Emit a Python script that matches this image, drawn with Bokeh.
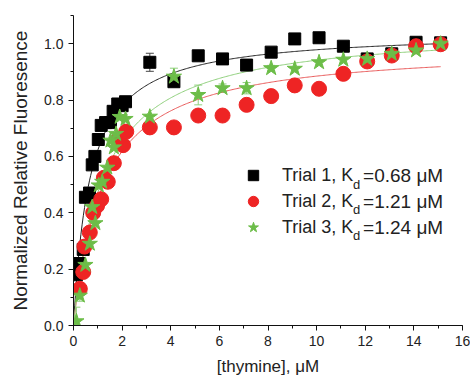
import numpy as np
from bokeh.plotting import figure
from bokeh.models import (Range1d, Legend, LegendItem, Label, Whisker, ColumnDataSource,
                          SingleIntervalTicker, PrintfTickFormatter, TeeHead)
from bokeh.embed import file_html
from bokeh.resources import INLINE

# ---- data ----
x1 = [0.12, 0.22, 0.40, 0.49, 0.66, 0.77, 0.88, 1.02, 1.14, 1.32, 1.52, 1.63, 1.82, 2.00, 2.14,
      3.14, 4.13, 5.13, 6.13, 7.12, 8.13, 9.10, 10.1, 11.1, 12.08, 13.09, 14.09, 15.1]
y1 = [0.18, 0.22, 0.27, 0.455, 0.47, 0.57, 0.60, 0.66, 0.71, 0.72, 0.72, 0.76, 0.786, 0.78, 0.794,
      0.934, 0.865, 0.957, 0.946, 0.924, 0.970, 1.017, 1.021, 0.991, 0.946, 0.964, 1.005, 1.003]
e1 = [0, 0, 0, 0, 0, 0, 0, 0, 0, 0, 0, 0, 0, 0.015, 0,
      0.032, 0.01, 0, 0, 0, 0, 0, 0, 0, 0, 0, 0, 0]

x2 = [0.26, 0.40, 0.45, 0.67, 0.81, 0.97, 1.14, 1.25, 1.41, 1.66, 1.86, 2.04, 2.17,
      3.14, 4.13, 5.13, 6.13, 7.12, 8.13, 9.10, 10.1, 11.1, 12.08, 13.09, 14.09, 15.1]
y2 = [0.13, 0.19, 0.28, 0.33, 0.40, 0.425, 0.448, 0.524, 0.51, 0.576, 0.662, 0.640, 0.688,
      0.703, 0.703, 0.745, 0.745, 0.783, 0.814, 0.852, 0.840, 0.893, 0.937, 0.958, 0.991, 0.998]
e2 = [0, 0.015, 0, 0, 0, 0, 0, 0, 0, 0, 0, 0, 0,
      0, 0, 0, 0, 0, 0, 0, 0, 0, 0.012, 0.01, 0, 0]

x3 = [0.12, 0.26, 0.49, 0.67, 0.77, 0.90, 1.04, 1.18, 1.39, 1.52, 1.66, 1.75, 1.90, 2.14,
      3.14, 4.13, 5.13, 6.13, 7.12, 8.13, 9.10, 10.1, 11.1, 12.08, 13.09, 14.09, 15.1]
y3 = [0.015, 0.106, 0.215, 0.29, 0.42, 0.363, 0.497, 0.51, 0.56, 0.656, 0.632, 0.68, 0.74, 0.733,
      0.741, 0.883, 0.818, 0.842, 0.842, 0.913, 0.911, 0.934, 0.943, 0.946, 0.964, 0.976, 1.0]
e3 = [0.05, 0.02, 0, 0, 0, 0, 0, 0, 0, 0, 0, 0, 0, 0,
      0, 0.03, 0.035, 0.015, 0.02, 0.01, 0, 0, 0, 0, 0, 0, 0]

kd = [0.68, 1.21, 1.24]          # fitted dissociation constants (uM)
bmax = [1.045, 0.992, 1.058]     # fitted plateau values
fit_end = 15.1

names = ["Trial 1", "Trial 2", "Trial 3"]
x_ticks_interval = 2
y_ticks_interval = 0.2

# ---- styles ----
colors = ["#000000", "#ee2424", "#6cbd48"]
line_colors = ["#222222", "#e85a5a", "#8fcf7c"]
markers = ["square", "circle", "star"]
sizes = [12, 15, 16]
FONT = "Liberation Sans"

p = figure(width=470, height=378, output_backend="svg", toolbar_location=None,
           x_range=Range1d(0, 16), y_range=Range1d(0, 1.1),
           min_border_left=73, min_border_right=8, min_border_top=15, min_border_bottom=53)
p.outline_line_color = None
p.xgrid.visible = False
p.ygrid.visible = False
p.background_fill_color = "white"

p.xaxis.ticker = SingleIntervalTicker(interval=x_ticks_interval, num_minor_ticks=2)
p.yaxis.ticker = SingleIntervalTicker(interval=y_ticks_interval, num_minor_ticks=2)
p.yaxis.formatter = PrintfTickFormatter(format="%.1f")
for ax in (p.xaxis, p.yaxis):
    ax.major_tick_in = 0
    ax.major_tick_out = 5
    ax.minor_tick_in = 0
    ax.minor_tick_out = 3
    ax.axis_line_color = "#111111"
    ax.major_tick_line_color = "#111111"
    ax.minor_tick_line_color = "#111111"
    ax.major_label_text_font = FONT
    ax.major_label_text_font_size = "14px"
    ax.major_label_text_color = "#222222"
    ax.axis_label_text_font = FONT
    ax.axis_label_text_font_style = "normal"
    ax.axis_label_text_color = "#222222"
p.xaxis.axis_label = "[thymine], μM"
p.yaxis.axis_label = "Normalized Relative Fluoresence"
p.xaxis.axis_label_text_font_size = "17px"
p.yaxis.axis_label_text_font_size = "19px"
p.xaxis.axis_label_standoff = 8
p.yaxis.axis_label_standoff = 10

series = [(x1, y1, e1), (x2, y2, e2), (x3, y3, e3)]

# fit curves
xs_fit = np.linspace(0, fit_end, 300)
for i in range(3):
    yf = bmax[i] * xs_fit / (kd[i] + xs_fit)
    p.line(xs_fit, yf, line_color=line_colors[i], line_width=1)

# error bars
for i, (xx, yy, ee) in enumerate(series):
    sel = [(a, b, c) for a, b, c in zip(xx, yy, ee) if c > 0]
    col = line_colors[i] if i else "#444444"
    src = ColumnDataSource(dict(x=[s[0] for s in sel],
                                upper=[s[1] + s[2] for s in sel],
                                lower=[s[1] - s[2] for s in sel]))
    w = Whisker(base="x", upper="upper", lower="lower", source=src,
                line_color=col, line_width=1,
                upper_head=TeeHead(size=8, line_color=col),
                lower_head=TeeHead(size=8, line_color=col))
    p.add_layout(w)

# points
renderers = []
for i, (xx, yy, ee) in enumerate(series):
    r = p.scatter(xx, yy, marker=markers[i], size=sizes[i], fill_color=colors[i],
                  line_color=colors[i], line_width=1)
    renderers.append(r)

# legend (markers + first part of the text), subscripts added as labels
items = [LegendItem(label=f"{names[i]}, K", renderers=[renderers[i]]) for i in range(3)]
leg = Legend(items=items, location=(167, 85), orientation="vertical",
             border_line_color=None, background_fill_alpha=0,
             padding=0, margin=0, spacing=0,
             glyph_width=26, glyph_height=26, label_standoff=16, label_height=20,
             label_text_font=FONT, label_text_font_size="18px", label_text_color="#222222")
p.add_layout(leg)

row_y = [0.532, 0.440, 0.348]
for i in range(3):
    p.add_layout(Label(x=11.50, y=row_y[i] - 0.03, text="d", text_font=FONT,
                       text_font_size="13px", text_color="#222222", text_baseline="middle"))
    p.add_layout(Label(x=11.91, y=row_y[i], text=f"={kd[i]:.2f} μM", text_font=FONT,
                       text_font_size="19px", text_color="#222222", text_baseline="middle"))

open("out.html", "w").write(file_html(p, INLINE))
